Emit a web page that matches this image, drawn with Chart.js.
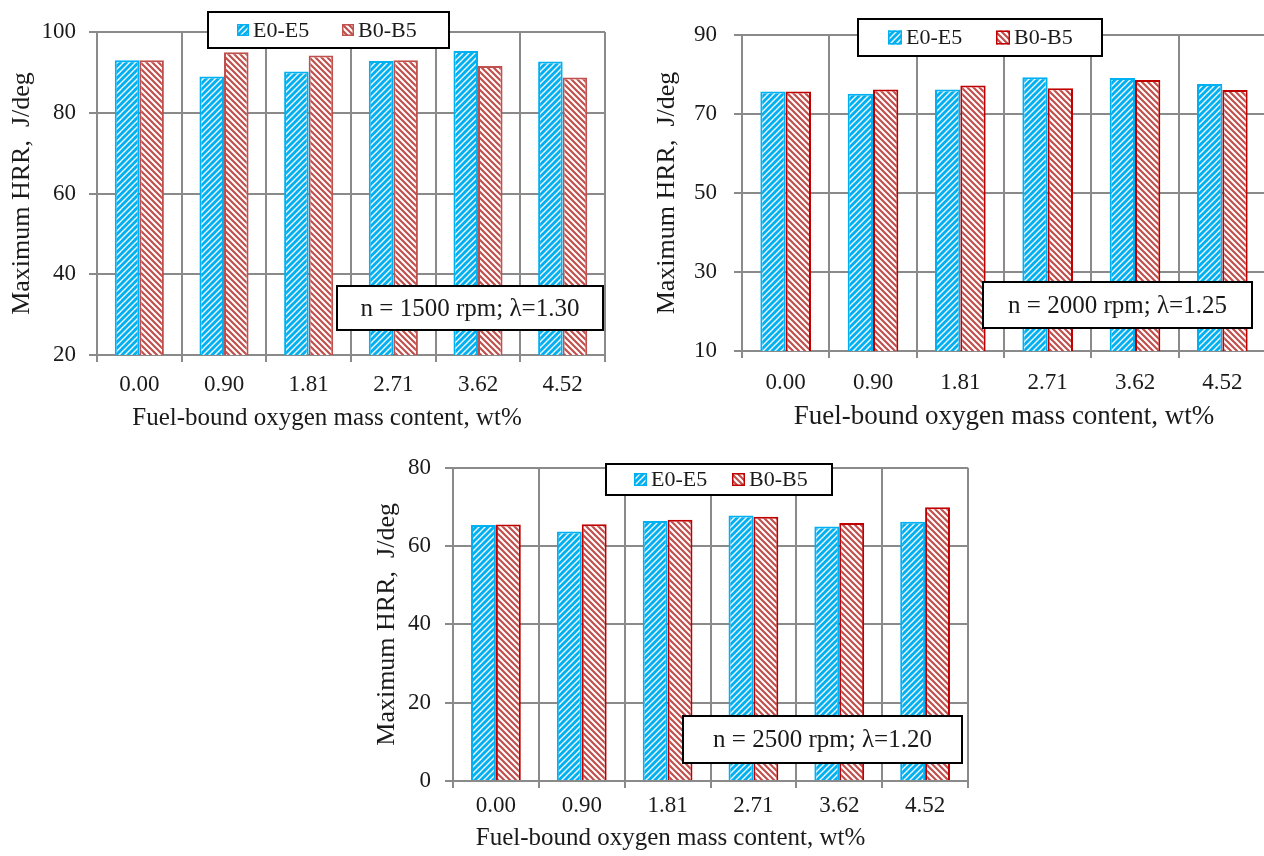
<!DOCTYPE html>
<html>
<head>
<meta charset="utf-8">
<script src="https://cdn.jsdelivr.net/npm/chart.js@4.4.1/dist/chart.umd.min.js"></script>
<style>
  html, body { margin: 0; padding: 0; background: #fff; overflow: hidden; }
  body { width: 1264px; height: 856px; position: relative; }
  canvas { position: absolute; }
</style>
</head>
<body>
<canvas id="c1500" width="640" height="440" style="left:0;top:0"></canvas>
<canvas id="c2000" width="626" height="440" style="left:640px;top:0"></canvas>
<canvas id="c2500" width="650" height="416" style="left:350px;top:440px"></canvas>
<script>
// x categories: fuel-bound oxygen mass content, wt%
const oxygenContent = ['0.00', '0.90', '1.81', '2.71', '3.62', '4.52'];
const seriesNames = ['E0-E5', 'B0-B5'];

// maximum HRR, J/deg
const hrr1500E = [93.0, 89.0, 90.2, 92.8, 95.3, 92.7];
const hrr1500B = [93.0, 95.0, 94.2, 93.0, 91.6, 88.7];
const hrr2000E = [75.7, 75.1, 76.2, 79.3, 79.1, 77.6];
const hrr2000B = [75.7, 76.2, 77.2, 76.5, 78.6, 76.1];
const hrr2500E = [65.4, 63.7, 66.4, 67.8, 65.0, 66.2];
const hrr2500B = [65.5, 65.6, 66.7, 67.5, 65.9, 69.9];

// y axis ranges [min, max, step]
const yRange1500 = [20, 100, 20];
const yRange2000 = [10, 90, 20];
const yRange2500 = [0, 80, 20];

const xTitle = 'Fuel-bound oxygen mass content, wt%';
const yTitle = 'Maximum HRR,  J/deg';

const serif = "'Liberation Serif', 'Times New Roman', serif";
const gridGrey = '#8a8a8a';
const blue = '#00B0F0';
const ink = '#1a1a1a';

function stripes(ctx, bg, fg, lw, dir) {
    const c = document.createElement('canvas');
    c.width = 6; c.height = 6;
    const g = c.getContext('2d');
    g.fillStyle = bg;
    g.fillRect(0, 0, 6, 6);
    g.strokeStyle = fg;
    g.lineWidth = lw;
    g.beginPath();
    if (dir === '/') {
        g.moveTo(-3, 3); g.lineTo(3, -3);
        g.moveTo(0, 6); g.lineTo(6, 0);
        g.moveTo(3, 9); g.lineTo(9, 3);
    } else {
        g.moveTo(-3, 3); g.lineTo(3, 9);
        g.moveTo(0, 0); g.lineTo(6, 6);
        g.moveTo(3, -3); g.lineTo(9, 3);
    }
    g.stroke();
    return ctx.createPattern(c, 'repeat');
}

// legend box, condition note and x title, drawn over the plot
const boxesPlugin = {
    id: 'boxes',
    afterDraw(chart, args, opts) {
        const ctx = chart.ctx;
        const lg = opts.legend;
        const nt = opts.note;
        const xt = opts.xTitle;
        const area = chart.chartArea;
        ctx.save();

        // x axis title (slightly off-centre in the original)
        ctx.fillStyle = ink;
        ctx.font = xt.size + 'px ' + serif;
        ctx.textAlign = 'center';
        ctx.textBaseline = 'middle';
        ctx.fillText(xTitle, (area.left + area.right) / 2 + xt.shift, xt.y);

        ctx.lineWidth = 2;
        ctx.strokeStyle = '#000';
        ctx.fillStyle = '#fff';
        ctx.fillRect(lg.x, lg.y, lg.w, lg.h);
        ctx.strokeRect(lg.x, lg.y, lg.w, lg.h);
        ctx.font = '22px ' + serif;
        ctx.textAlign = 'left';
        const cy = lg.y + lg.h / 2;
        chart.data.datasets.forEach(function (ds, i) {
            const mx = lg.itemX[i];
            ctx.fillStyle = ds.backgroundColor;
            ctx.fillRect(mx, cy - lg.size / 2, lg.size, lg.size);
            ctx.lineWidth = 1.5;
            ctx.strokeStyle = ds.borderColor;
            ctx.strokeRect(mx + 0.75, cy - lg.size / 2 + 0.75, lg.size - 1.5, lg.size - 1.5);
            ctx.fillStyle = ink;
            ctx.fillText(ds.label, mx + lg.size + 4, cy + 1);
        });

        ctx.lineWidth = 2;
        ctx.strokeStyle = '#000';
        ctx.fillStyle = '#fff';
        ctx.fillRect(nt.x, nt.y, nt.w, nt.h);
        ctx.strokeRect(nt.x, nt.y, nt.w, nt.h);
        ctx.fillStyle = ink;
        ctx.font = '25px ' + serif;
        ctx.textAlign = 'center';
        ctx.fillText(nt.text, nt.x + nt.w / 2, nt.y + nt.h / 2 + 1);
        ctx.restore();
    }
};

function makeChart(id, eData, bData, yRange, bBorder, lay) {
    const ctx = document.getElementById(id).getContext('2d');
    return new Chart(ctx, {
        type: 'bar',
        data: {
            labels: oxygenContent,
            datasets: [{
                label: seriesNames[0],
                data: eData,
                backgroundColor: stripes(ctx, blue, '#ffffff', 1.3, '/'),
                borderColor: blue,
                borderWidth: 2,
                categoryPercentage: 0.58,
                barPercentage: 1.0
            }, {
                label: seriesNames[1],
                data: bData,
                backgroundColor: stripes(ctx, '#ffffff', '#C0504D', 2.2, '\\'),
                borderColor: bBorder,
                borderWidth: 2,
                categoryPercentage: 0.58,
                barPercentage: 1.0
            }]
        },
        options: {
            responsive: false,
            animation: false,
            devicePixelRatio: 1,
            layout: { padding: lay.padding },
            plugins: {
                legend: { display: false },
                tooltip: { enabled: false },
                boxes: { legend: lay.legend, note: lay.note, xTitle: lay.xTitle }
            },
            scales: {
                x: {
                    grid: { color: gridGrey, lineWidth: 2, offset: true, tickLength: 7 },
                    border: { color: gridGrey, width: 2 },
                    ticks: { color: ink, padding: lay.xTickPad, font: { family: serif, size: 23, lineHeight: 1.2 } },
                    afterFit: function (scale) { scale.height = lay.xHeight; }
                },
                y: {
                    min: yRange[0],
                    max: yRange[1],
                    grid: { color: gridGrey, lineWidth: 2, tickLength: 8 },
                    border: { color: gridGrey, width: 2 },
                    ticks: { stepSize: yRange[2], color: ink, padding: lay.yTickPad, font: { family: serif, size: 23, lineHeight: 1.2 } },
                    title: {
                        display: true,
                        text: yTitle,
                        color: ink,
                        font: { family: serif, size: 26, lineHeight: 1.2 },
                        padding: { top: lay.yTitlePad, bottom: 0 }
                    },
                    afterFit: function (scale) { scale.width = lay.yWidth; }
                }
            }
        },
        plugins: [boxesPlugin]
    });
}

makeChart('c1500', hrr1500E, hrr1500B, yRange1500, '#C0504D', {
    padding: { left: 0, top: 32, right: 35, bottom: 0 },
    yWidth: 97, xHeight: 85,
    yTitlePad: 7, yTickPad: 13, xTickPad: 9,
    xTitle: { size: 25, shift: -24, y: 418 },
    legend: { x: 208, y: 12, w: 241, h: 36, size: 12, itemX: [237, 342] },
    note: { x: 337, y: 286, w: 266, h: 44, text: 'n = 1500 rpm; \u03bb=1.30' }
});

makeChart('c2000', hrr2000E, hrr2000B, yRange2000, '#C00000', {
    padding: { left: 0, top: 35, right: 0, bottom: 0 },
    yWidth: 102, xHeight: 89,
    yTitlePad: 12, yTickPad: 17, xTickPad: 11,
    xTitle: { size: 27, shift: 0, y: 417 },
    legend: { x: 218, y: 19, w: 244, h: 37, size: 14, itemX: [248, 356] },
    note: { x: 343, y: 282, w: 269, h: 46, text: 'n = 2000 rpm; \u03bb=1.25' }
});

makeChart('c2500', hrr2500E, hrr2500B, yRange2500, '#C00000', {
    padding: { left: 0, top: 17, right: 32, bottom: 0 },
    yWidth: 103, xHeight: 75,
    yTitlePad: 22, yTickPad: 14, xTickPad: 4,
    xTitle: { size: 25, shift: -40, y: 398 },
    legend: { x: 256, y: 24, w: 226, h: 31, size: 13, itemX: [284, 382] },
    note: { x: 333, y: 276, w: 279, h: 47, text: 'n = 2500 rpm; \u03bb=1.20' }
});
</script>
</body>
</html>
